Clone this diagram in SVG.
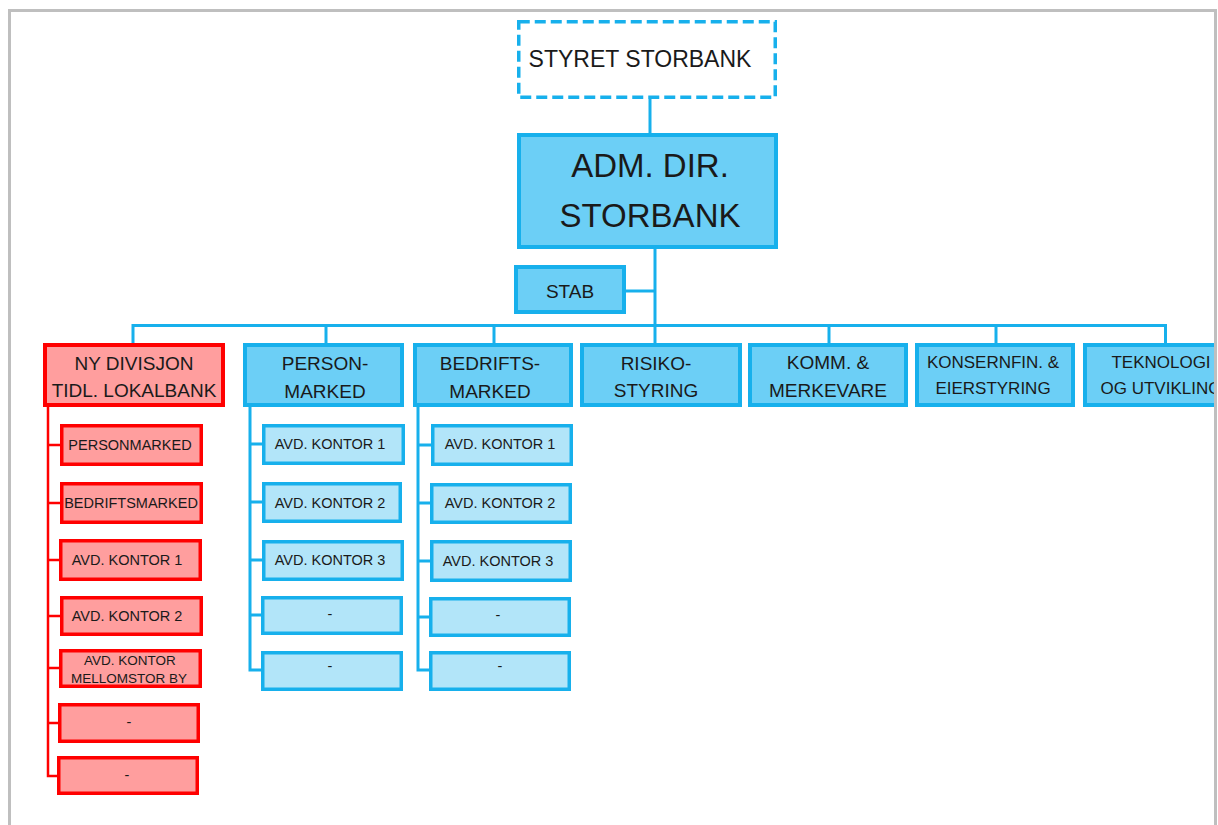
<svg xmlns="http://www.w3.org/2000/svg" width="1218" height="825" viewBox="0 0 1218 825">
  <style>
    text { font-family: "Liberation Sans", Arial, sans-serif; fill: #1a1a1a; text-anchor: middle; }
    .frame { fill: none; stroke: #bfbfbf; stroke-width: 3; }
    .board { fill: #ffffff; stroke: #17b0ec; stroke-width: 3.5; stroke-dasharray: 11 5; }
    .top { fill: #6ccff6; stroke: #17b0ec; stroke-width: 4; }
    .unit { fill: #6ccff6; stroke: #17b0ec; stroke-width: 4; }
    .sub { fill: #b2e5f9; stroke: #17b0ec; stroke-width: 3.5; }
    .unit-red { fill: #ff9e9e; stroke: #ff0000; stroke-width: 4; }
    .sub-red { fill: #ff9e9e; stroke: #ff0000; stroke-width: 3.5; }
    .link { fill: none; stroke: #17b0ec; stroke-width: 3; }
    .link-red { fill: none; stroke: #ff0000; stroke-width: 2.5; }
    .t-board { font-size: 23px; }
    .t-top { font-size: 33px; }
    .t-unit { font-size: 19px; }
    .t-unit-s { font-size: 17px; }
    .t-sub { font-size: 14.5px; }
    .t-sub-s { font-size: 13.5px; }
  </style>
  <defs>
    <clipPath id="page">
      <rect x="0" y="0" width="1214" height="825"/>
    </clipPath>
  </defs>

  <rect x="0" y="0" width="1218" height="825" fill="#ffffff"/>

  <!-- connectors -->
  <g id="connectors">
    <path class="link" d="M650 99 V133"/>
    <path class="link" d="M655 249 V343"/>
    <path class="link" d="M626 291 H655"/>
    <path class="link" d="M133 343 V325.5 H1165.5 V343"/>
    <path class="link" d="M326 325.5 V343"/>
    <path class="link" d="M494 325.5 V343"/>
    <path class="link" d="M829 325.5 V343"/>
    <path class="link" d="M996 325.5 V343"/>
    <!-- red division tree -->
    <path class="link-red" d="M48 407 V776 H58 M48 445 H60 M48 503 H60 M48 560 H59 M48 616 H60 M48 668 H59 M48 723 H58"/>
    <!-- personmarked tree -->
    <path class="link" d="M250 407 V670 H262 M250 444 H262 M250 502 H262 M250 560 H262 M250 615 H261"/>
    <!-- bedriftsmarked tree -->
    <path class="link" d="M418 407 V670 H430 M418 445 H431 M418 503 H430 M418 561 H430 M418 617 H429"/>
  </g>

  <g id="styret">
    <rect class="board" x="518.75" y="21.75" width="256.5" height="75.5"/>
    <text class="t-board" x="640" y="67">STYRET STORBANK</text>
  </g>

  <g id="adm-dir">
    <rect class="top" x="519" y="135" width="257" height="112"/>
    <text class="t-top" x="650" y="177">ADM. DIR.</text>
    <text class="t-top" x="650" y="227">STORBANK</text>
  </g>

  <g id="stab">
    <rect class="unit" x="516" y="267" width="108" height="45"/>
    <text class="t-unit" x="570" y="298">STAB</text>
  </g>

  <!-- divisions -->
  <g id="ny-divisjon">
    <rect class="unit-red" x="45" y="345" width="178" height="60"/>
    <text class="t-unit" x="134" y="370">NY DIVISJON</text>
    <text class="t-unit" x="134" y="397">TIDL. LOKALBANK</text>
  </g>
  <g id="personmarked">
    <rect class="unit" x="245" y="345" width="157" height="60"/>
    <text class="t-unit" x="325" y="370">PERSON-</text>
    <text class="t-unit" x="325" y="398">MARKED</text>
  </g>
  <g id="bedriftsmarked">
    <rect class="unit" x="415" y="345" width="156" height="60"/>
    <text class="t-unit" x="490" y="370">BEDRIFTS-</text>
    <text class="t-unit" x="490" y="398">MARKED</text>
  </g>
  <g id="risikostyring">
    <rect class="unit" x="582" y="345" width="158" height="60"/>
    <text class="t-unit" x="656" y="370">RISIKO-</text>
    <text class="t-unit" x="656" y="397">STYRING</text>
  </g>
  <g id="komm-merkevare">
    <rect class="unit" x="750" y="345" width="156" height="60"/>
    <text class="t-unit" x="828" y="369">KOMM. &amp;</text>
    <text class="t-unit" x="828" y="397">MERKEVARE</text>
  </g>
  <g id="konsernfin">
    <rect class="unit" x="917" y="345" width="156" height="60"/>
    <text class="t-unit-s" x="993" y="368">KONSERNFIN. &amp;</text>
    <text class="t-unit-s" x="993" y="394">EIERSTYRING</text>
  </g>
  <g id="teknologi" clip-path="url(#page)">
    <rect class="unit" x="1085" y="345" width="156" height="60"/>
    <text class="t-unit-s" x="1161" y="368">TEKNOLOGI</text>
    <text class="t-unit-s" x="1161" y="394">OG UTVIKLING</text>
  </g>

  <!-- units under the new division -->
  <g id="red-personmarked">
    <rect class="sub-red" x="61.75" y="425.75" width="139.5" height="38.5"/>
    <text class="t-sub" x="130" y="450">PERSONMARKED</text>
  </g>
  <g id="red-bedriftsmarked">
    <rect class="sub-red" x="61.75" y="483.75" width="139.5" height="38.5"/>
    <text class="t-sub" x="131" y="508">BEDRIFTSMARKED</text>
  </g>
  <g id="red-avd1">
    <rect class="sub-red" x="60.75" y="540.75" width="139.5" height="38.5"/>
    <text class="t-sub" x="127" y="565">AVD. KONTOR 1</text>
  </g>
  <g id="red-avd2">
    <rect class="sub-red" x="61.75" y="597.75" width="139.5" height="36.5"/>
    <text class="t-sub" x="127" y="621">AVD. KONTOR 2</text>
  </g>
  <g id="red-mellomstor">
    <rect class="sub-red" x="60.75" y="650.75" width="139.5" height="35.5"/>
    <text class="t-sub-s" x="130" y="665">AVD. KONTOR</text>
    <text class="t-sub-s" x="129" y="683">MELLOMSTOR BY</text>
  </g>
  <g id="red-blank1">
    <rect class="sub-red" x="59.75" y="704.75" width="138.5" height="36.5"/>
    <text class="t-sub" x="129" y="727">-</text>
  </g>
  <g id="red-blank2">
    <rect class="sub-red" x="58.75" y="757.75" width="138.5" height="35.5"/>
    <text class="t-sub" x="127" y="780">-</text>
  </g>

  <!-- units under personmarked -->
  <g id="pm-avd1">
    <rect class="sub" x="263.75" y="425.75" width="139.5" height="37.5"/>
    <text class="t-sub" x="330" y="449">AVD. KONTOR 1</text>
  </g>
  <g id="pm-avd2">
    <rect class="sub" x="263.75" y="483.75" width="136.5" height="37.5"/>
    <text class="t-sub" x="330" y="508">AVD. KONTOR 2</text>
  </g>
  <g id="pm-avd3">
    <rect class="sub" x="263.75" y="541.75" width="138.5" height="37.5"/>
    <text class="t-sub" x="330" y="565">AVD. KONTOR 3</text>
  </g>
  <g id="pm-blank1">
    <rect class="sub" x="262.75" y="597.75" width="138.5" height="35.5"/>
    <text class="t-sub" x="330" y="619">-</text>
  </g>
  <g id="pm-blank2">
    <rect class="sub" x="262.75" y="652.75" width="138.5" height="36.5"/>
    <text class="t-sub" x="330" y="671">-</text>
  </g>

  <!-- units under bedriftsmarked -->
  <g id="bm-avd1">
    <rect class="sub" x="432.75" y="425.75" width="138.5" height="38.5"/>
    <text class="t-sub" x="500" y="449">AVD. KONTOR 1</text>
  </g>
  <g id="bm-avd2">
    <rect class="sub" x="431.75" y="484.75" width="138.5" height="37.5"/>
    <text class="t-sub" x="500" y="508">AVD. KONTOR 2</text>
  </g>
  <g id="bm-avd3">
    <rect class="sub" x="431.75" y="541.75" width="138.5" height="38.5"/>
    <text class="t-sub" x="498" y="566">AVD. KONTOR 3</text>
  </g>
  <g id="bm-blank1">
    <rect class="sub" x="430.75" y="598.75" width="138.5" height="36.5"/>
    <text class="t-sub" x="498" y="620">-</text>
  </g>
  <g id="bm-blank2">
    <rect class="sub" x="430.75" y="652.75" width="138.5" height="36.5"/>
    <text class="t-sub" x="500" y="671">-</text>
  </g>

  <!-- page frame -->
  <path class="frame" d="M9.5 825 V10.5 H1215.5 V825"/>
</svg>
